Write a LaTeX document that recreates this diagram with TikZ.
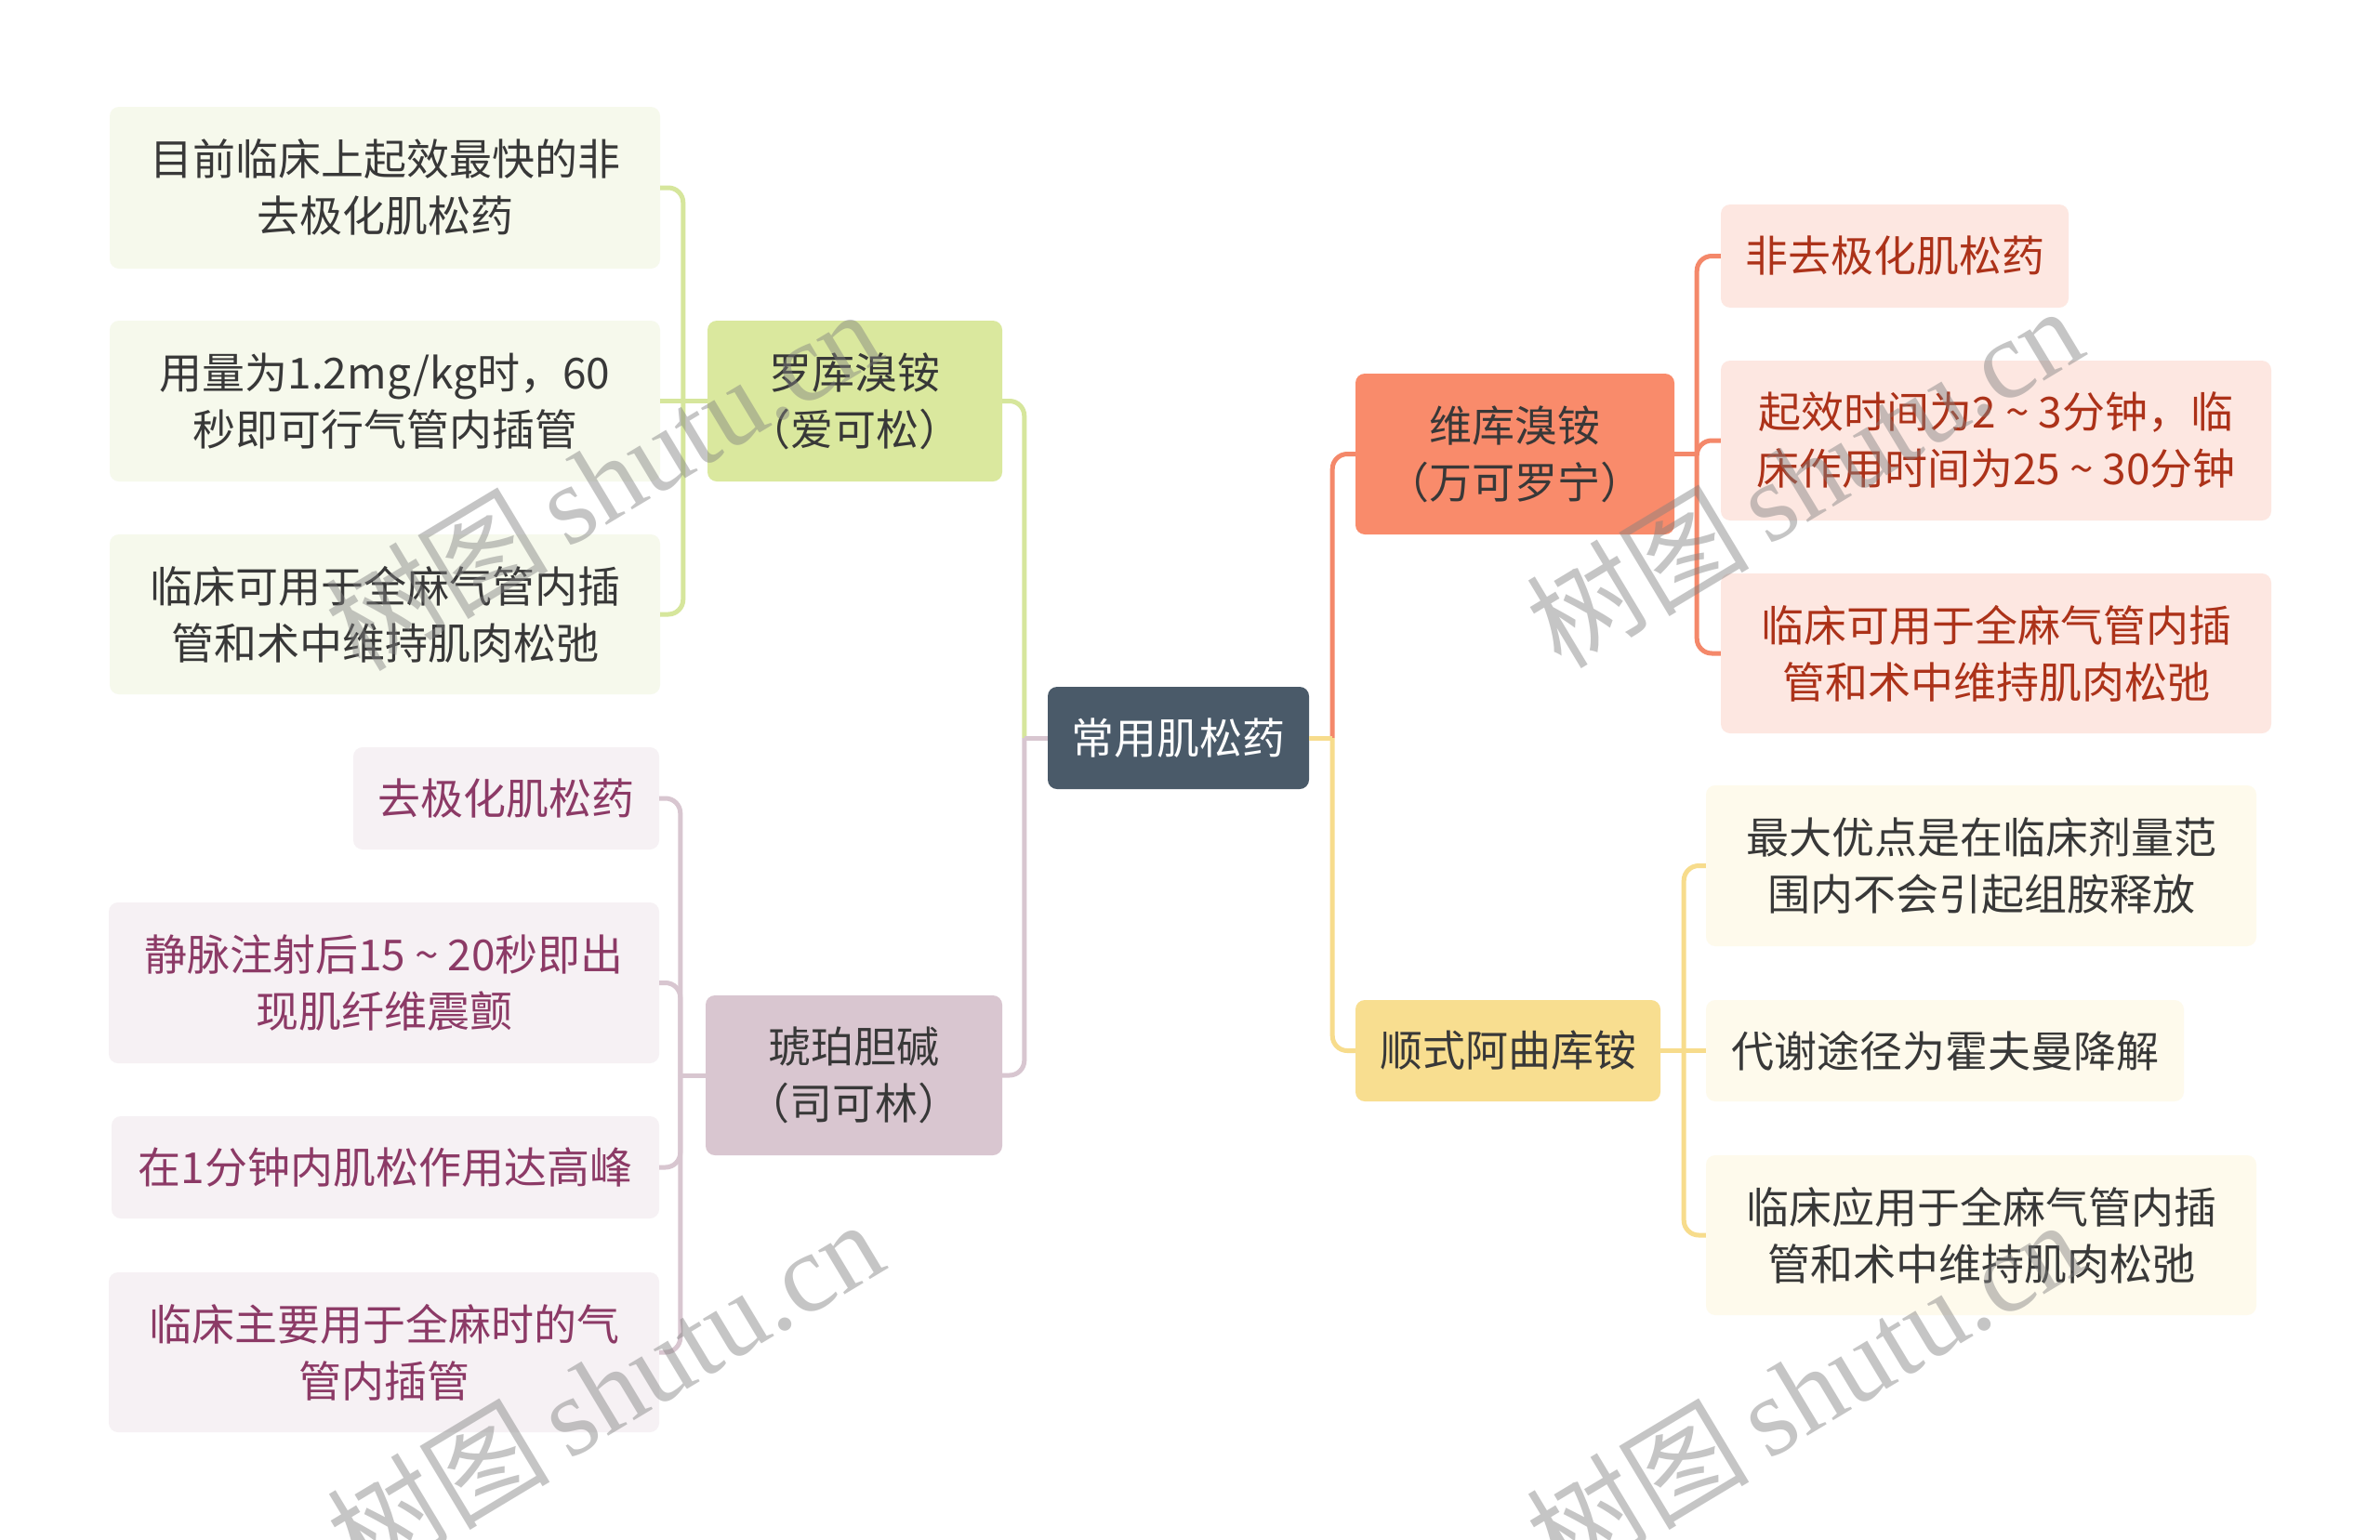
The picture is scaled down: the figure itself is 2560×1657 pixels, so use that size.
\documentclass[tikz,border=0pt]{standalone}
\usepackage{fontspec}
\setmainfont{Noto Sans CJK SC}
\newfontfamily\wmserif{Liberation Serif}
\newfontfamily\wmcjk{Noto Sans CJK SC}
\newcommand{\tld}{\hspace{0.22em}\textasciitilde\hspace{0.22em}}
\definecolor{rootfill}{HTML}{4A5A69}
\definecolor{gmain}{HTML}{DAE89E}
\definecolor{gleaf}{HTML}{F6F9EC}
\definecolor{gline}{HTML}{D6E69C}
\definecolor{pmain}{HTML}{D9C6D0}
\definecolor{pleaf}{HTML}{F6F1F4}
\definecolor{pline}{HTML}{D8C6D0}
\definecolor{ptext}{HTML}{8C3A66}
\definecolor{rmain}{HTML}{F98B6B}
\definecolor{rleaf}{HTML}{FDE7E1}
\definecolor{rline}{HTML}{F4886A}
\definecolor{rtext}{HTML}{AC3219}
\definecolor{ymain}{HTML}{F8DE90}
\definecolor{yleaf}{HTML}{FEFAEC}
\definecolor{yline}{HTML}{F7DC8C}
\definecolor{dtext}{HTML}{383838}
\tikzset{
  box/.style={rounded corners=10pt, inner sep=0pt, align=center,
    font=\fontsize{46}{61}\selectfont},
  rootbox/.style={box, fill=rootfill, text=white},
  gmainbox/.style={box, fill=gmain, text=dtext},
  gleafbox/.style={box, fill=gleaf, text=dtext},
  pmainbox/.style={box, fill=pmain, text=dtext},
  pleafbox/.style={box, fill=pleaf, text=ptext},
  rmainbox/.style={box, fill=rmain, text=dtext},
  rleafbox/.style={box, fill=rleaf, text=rtext},
  ymainbox/.style={box, fill=ymain, text=dtext},
  yleafbox/.style={box, fill=yleaf, text=dtext},
  conn/.style={line width=5pt, rounded corners=16pt},
  stub/.style={line width=5pt},
  wm/.style={rotate=31, text=gray, text opacity=0.45, inner sep=0pt}
}
\begin{document}
\begin{tikzpicture}[x=1pt,y=-1pt]
\useasboundingbox (0,0) rectangle (2560,1657);
\fill[white] (0,0) rectangle (2560,1657);

% root
\node[rootbox, minimum width=281pt, minimum height=110pt] (root) at (1267.5,794) {常用肌松药};

% left-top branch: green
\node[gmainbox, minimum width=317pt, minimum height=173pt] (lg) at (919.5,431.5) {罗库溴铵\\（爱可松）};
\node[gleafbox, minimum width=592pt, minimum height=174pt] (g1) at (414,202) {目前临床上起效最快的非\\去极化肌松药};
\node[gleafbox, minimum width=592pt, minimum height=173pt] (g2) at (414,431.5) {用量为1.2mg/kg时，60\\秒即可行气管内插管};
\node[gleafbox, minimum width=592pt, minimum height=172pt] (g3) at (414,661) {临床可用于全麻气管内插\\管和术中维持肌肉松弛};

% left-bottom branch: purple
\node[pmainbox, minimum width=319pt, minimum height=172pt] (lp) at (918.5,1157) {琥珀胆碱\\（司可林）};
\node[pleafbox, minimum width=329pt, minimum height=110pt] (p1) at (544.5,859) {去极化肌松药};
\node[pleafbox, minimum width=592pt, minimum height=173pt] (p2) at (413,1057.5) {静脉注射后15\tld 20秒即出\\现肌纤维震颤};
\node[pleafbox, minimum width=589pt, minimum height=110pt] (p3) at (414.5,1256) {在1分钟内肌松作用达高峰};
\node[pleafbox, minimum width=592pt, minimum height=172pt] (p4) at (413,1455) {临床主要用于全麻时的气\\管内插管};

% right-top branch: orange
\node[rmainbox, minimum width=343pt, minimum height=173pt] (ro) at (1629.5,488.5) {维库溴铵\\（万可罗宁）};
\node[rleafbox, minimum width=374pt, minimum height=111pt] (r1) at (2038,275.5) {非去极化肌松药};
\node[rleafbox, minimum width=592pt, minimum height=172pt] (r2) at (2147,474) {起效时间为2\tld 3分钟，临\\床作用时间为25\tld 30分钟};
\node[rleafbox, minimum width=592pt, minimum height=172pt] (r3) at (2147,703) {临床可用于全麻气管内插\\管和术中维持肌肉松弛};

% right-bottom branch: yellow
\node[ymainbox, minimum width=328pt, minimum height=109pt] (yl) at (1622,1130.5) {顺式阿曲库铵};
\node[yleafbox, minimum width=592pt, minimum height=173pt] (y1) at (2131,931.5) {最大优点是在临床剂量范\\围内不会引起组胺释放};
\node[yleafbox, minimum width=514pt, minimum height=109pt] (y2) at (2092,1130.5) {代谢途径为霍夫曼降解};
\node[yleafbox, minimum width=592pt, minimum height=172pt] (y3) at (2131,1329) {临床应用于全麻气管内插\\管和术中维持肌肉松弛};

% connectors root -> main
\draw[stub, gline] (root.west) -- ++(-25,0) coordinate (jL);
\draw[conn, gline] (jL) |- (lg.east);
\draw[conn, pline] (jL) |- (lp.east);
\draw[stub, pline] (root.west) -- (jL);
\draw[stub, rline] (root.east) -- ++(25,0) coordinate (jR);
\draw[conn, rline] (jR) |- (ro.west);
\draw[conn, yline] (jR) |- (yl.west);
\draw[stub, yline] (root.east) -- (jR);

% green leaves
\draw[stub, gline] (lg.west) -- ++(-26,0) coordinate (jg);
\draw[conn, gline] (jg) |- (g1.east);
\draw[conn, gline] (jg) -- (g2.east);
\draw[conn, gline] (jg) |- (g3.east);

% purple leaves
\draw[stub, pline] (lp.west) -- ++(-27,0) coordinate (jp);
\draw[conn, pline] (jp) |- (p1.east);
\draw[conn, pline] (jp) |- (p2.east);
\draw[conn, pline] (jp) |- (p3.east);
\draw[conn, pline] (jp) |- (p4.east);

% orange leaves
\draw[stub, rline] (ro.east) -- ++(24,0) coordinate (jr);
\draw[conn, rline] (jr) |- (r1.west);
\draw[conn, rline] (jr) |- (r2.west);
\draw[conn, rline] (jr) |- (r3.west);

% yellow leaves
\draw[stub, yline] (yl.east) -- ++(25,0) coordinate (jy);
\draw[conn, yline] (jy) |- (y1.west);
\draw[conn, yline] (jy) -- (y2.west);
\draw[conn, yline] (jy) |- (y3.west);

% watermarks
\node[wm] (wm1) at (648,515) {\fontsize{120}{120}\selectfont\wmcjk 树图\,{\wmserif shutu.cn}};
\node[wm] (wm2) at (1940,512) {\fontsize{120}{120}\selectfont\wmcjk 树图\,{\wmserif shutu.cn}};
\node[wm] (wm3) at (650,1495) {\fontsize{120}{120}\selectfont\wmcjk 树图\,{\wmserif shutu.cn}};
\node[wm] (wm4) at (1940,1495) {\fontsize{120}{120}\selectfont\wmcjk 树图\,{\wmserif shutu.cn}};
\end{tikzpicture}
\end{document}
